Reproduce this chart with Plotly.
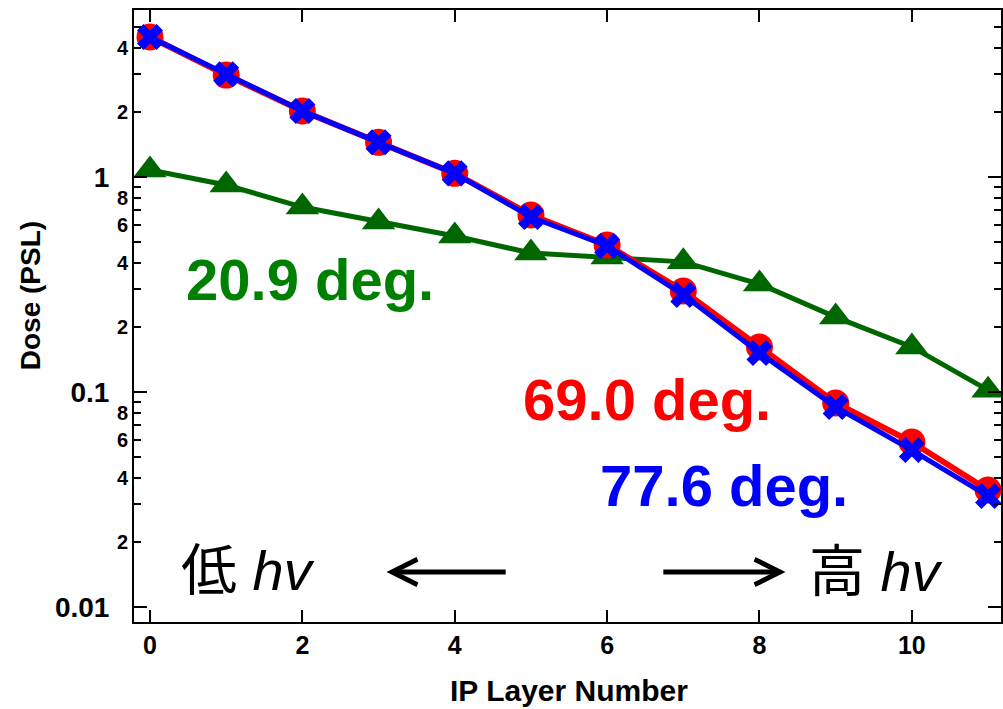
import plotly.graph_objects as go

layers = list(range(12))
dose_209 = [1.078, 0.918, 0.725, 0.618, 0.532, 0.443, 0.425, 0.403, 0.318, 0.223, 0.162, 0.102]
dose_690 = [4.48, 2.98, 2.03, 1.45, 1.04, 0.666, 0.483, 0.295, 0.162, 0.0889, 0.0585, 0.035]
dose_776 = [4.48, 3.01, 2.03, 1.45, 1.04, 0.651, 0.478, 0.283, 0.152, 0.0851, 0.0537, 0.0328]

x_ticks = [0, 2, 4, 6, 8, 10]
decade_vals = [0.01, 0.1, 1]
decade_text = ["0.01", "0.1", "1"]
small_vals = [0.02, 0.04, 0.06, 0.08, 0.2, 0.4, 0.6, 0.8, 2, 4]
small_text = ["2", "4", "6", "8", "2", "4", "6", "8", "2", "4"]
minor_vals = [0.03, 0.05, 0.07, 0.09, 0.3, 0.5, 0.7, 0.9, 3, 5]

FONT = "Liberation Sans, Arial, Helvetica, sans-serif"
CJK = "Liberation Sans, Noto Sans CJK JP, sans-serif"

fig = go.Figure()
fig.add_trace(go.Scatter(x=layers, y=dose_209, mode="lines+markers", yaxis="y",
                         line=dict(color="#006600", width=5),
                         marker=dict(symbol="triangle-up", size=29, color="#006600"),
                         showlegend=False))
fig.add_trace(go.Scatter(x=layers, y=dose_690, mode="lines+markers", yaxis="y2",
                         line=dict(color="#FF0000", width=6),
                         marker=dict(symbol="circle", size=27, color="#FF0000"),
                         showlegend=False))
fig.add_trace(go.Scatter(x=layers, y=dose_776, mode="lines+markers", yaxis="y2",
                         line=dict(color="#0000FF", width=5),
                         marker=dict(symbol="x", size=23, color="#0000FF", line=dict(width=0)),
                         showlegend=False))

yr = [-2.070, 0.777]
fig.update_layout(
    width=1003, height=709,
    margin=dict(l=134, r=0, t=10, b=87),
    plot_bgcolor="white", paper_bgcolor="white",
    xaxis=dict(range=[-0.21, 11.17], tickvals=x_ticks, ticks="inside", ticklen=12,
               tickwidth=1.5, tickcolor="black", showline=True, linecolor="black",
               linewidth=2, mirror="ticks", showgrid=False, zeroline=False,
               tickfont=dict(family=FONT, size=25, color="black", weight="bold")),
    yaxis=dict(type="log", range=yr, tickvals=small_vals, ticktext=small_text,
               ticks="inside", ticklen=7, tickwidth=1.5, tickcolor="black",
               showline=True, linecolor="black", linewidth=2, mirror="ticks",
               showgrid=False, zeroline=False,
               tickfont=dict(family=FONT, size=20, color="black", weight="bold"),
               ticklabelstandoff=0,
               minor=dict(tickvals=minor_vals, ticks="inside", ticklen=7,
                          tickwidth=1.5, tickcolor="black", showgrid=False)),
    yaxis2=dict(type="log", range=yr, overlaying="y", side="left", anchor="x",
                tickvals=decade_vals, ticktext=decade_text,
                ticks="inside", ticklen=13, tickwidth=1.5, tickcolor="black",
                showline=True, linecolor="black", linewidth=2, mirror="ticks",
                showgrid=False, zeroline=False, ticklabelstandoff=17,
                tickfont=dict(family=FONT, size=28, color="black", weight="bold")),
)

ann = []
ann.append(dict(text="Dose (PSL)", xref="paper", yref="paper",
                x=(30 - 134) / 869, y=(622 - 296) / 612, textangle=-90,
                showarrow=False, xanchor="center", yanchor="middle",
                font=dict(family=FONT, size=28, color="black", weight="bold")))
ann.append(dict(text="IP Layer Number", xref="paper", yref="paper",
                x=(570 - 134) / 869, y=(622 - 690) / 612,
                showarrow=False, xanchor="center", yanchor="middle",
                font=dict(family=FONT, size=30, color="black", weight="bold")))
ann.append(dict(text="20.9 deg.", x=2.094, y=-0.479, xref="x", yref="y", showarrow=False,
                font=dict(family=FONT, size=58, color="#008000", weight="bold")))
ann.append(dict(text="69.0 deg.", x=6.52, y=-1.037, xref="x", yref="y", showarrow=False,
                font=dict(family=FONT, size=58, color="#FF0000", weight="bold")))
ann.append(dict(text="77.6 deg.", x=7.54, y=-1.437, xref="x", yref="y", showarrow=False,
                font=dict(family=FONT, size=58, color="#0000FF", weight="bold")))
ann.append(dict(text="低 <i>hv</i>", x=(248 - 150) / 76.36, y=(177 - 571) / 215,
                xref="x", yref="y", showarrow=False,
                font=dict(family=CJK, size=56, color="black")))
ann.append(dict(text="高 <i>hv</i>", x=(878 - 150) / 76.36, y=(177 - 572) / 215,
                xref="x", yref="y", showarrow=False,
                font=dict(family=CJK, size=56, color="black")))
ya = (177 - 572) / 215
ann.append(dict(text="", x=(387 - 150) / 76.36, y=ya, ax=(508 - 150) / 76.36, ay=ya,
                xref="x", yref="y", axref="x", ayref="y", showarrow=True,
                arrowhead=5, arrowsize=1, arrowwidth=5, arrowcolor="black"))
ann.append(dict(text="", x=(787 - 150) / 76.36, y=ya, ax=(663 - 150) / 76.36, ay=ya,
                xref="x", yref="y", axref="x", ayref="y", showarrow=True,
                arrowhead=5, arrowsize=1, arrowwidth=5, arrowcolor="black"))
fig.update_layout(annotations=ann)

fig.write_html("out.html")
